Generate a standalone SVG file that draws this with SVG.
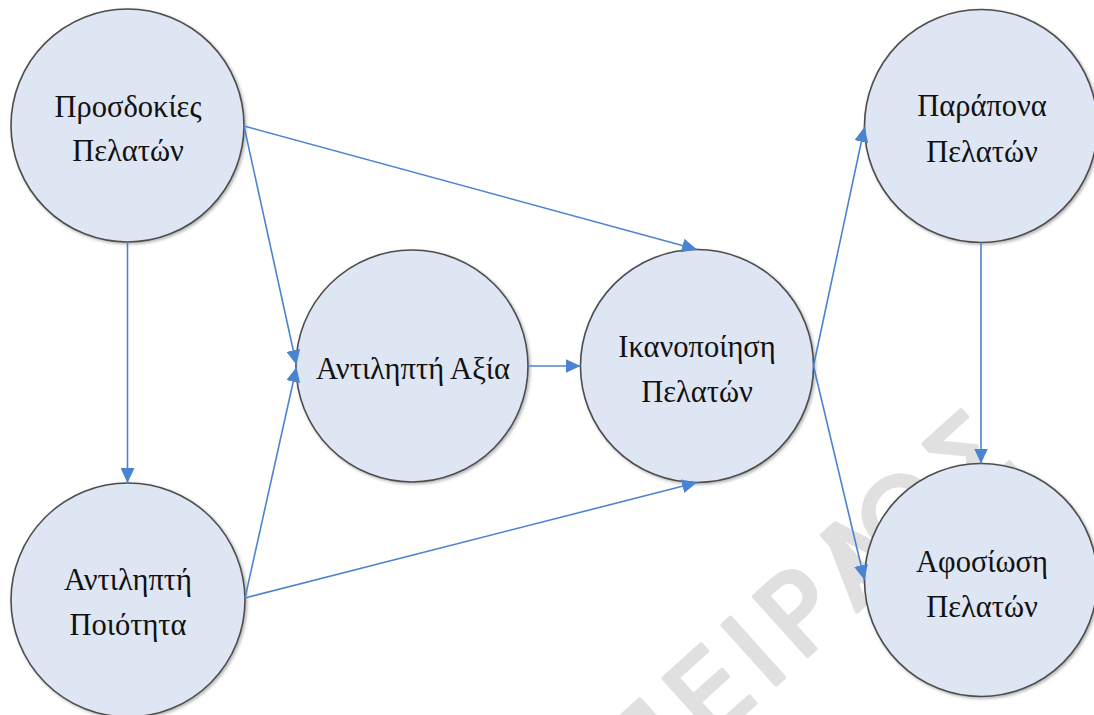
<svg xmlns="http://www.w3.org/2000/svg" width="1094" height="715" viewBox="0 0 1094 715">
  <defs>
    <style>
      .node circle { fill: #DEE5F3; stroke: #4D4D4D; stroke-width: 1.6; filter: url(#shadow); }
      .node text { font-family: "Liberation Serif", "Times New Roman", serif; font-size: 30.5px; fill: #111111; text-anchor: middle; }
      .edge { fill: none; stroke: #4A84D0; stroke-width: 1.6; marker-end: url(#arrow); }
      .mark { font-family: "DejaVu Sans", sans-serif; font-size: 110px; fill: #E0E0E0; stroke: #E0E0E0; stroke-width: 4; stroke-linejoin: round; letter-spacing: 10px; }
    </style>
    <filter id="shadow" x="-10%" y="-10%" width="125%" height="125%">
      <feDropShadow dx="1.5" dy="1.5" stdDeviation="1.5" flood-color="#000000" flood-opacity="0.3"/>
    </filter>
    <marker id="arrow" markerUnits="userSpaceOnUse" markerWidth="16" markerHeight="14" refX="15" refY="7" orient="auto">
      <path d="M0,0 L15,7 L0,14 z" fill="#4A84D0"/>
    </marker>
  </defs>

  <rect width="1094" height="715" fill="#FFFFFF"/>

  <!-- faint background watermark -->
  <text class="mark" transform="translate(640,807) rotate(-42)">ΠΕΙΡΑ<tspan dx="-70">ΙΩΣ</tspan></text>

  <!-- nodes -->
  <g id="node-prosdokies" class="node">
    <circle cx="127.5" cy="125.5" r="116.5"/>
    <text x="128" y="117">Προσδοκίες</text>
    <text x="128" y="161">Πελατών</text>
  </g>
  <g id="node-poiotita" class="node">
    <circle cx="128" cy="600" r="117"/>
    <text x="128" y="590">Αντιληπτή</text>
    <text x="128" y="635">Ποιότητα</text>
  </g>
  <g id="node-axia" class="node">
    <circle cx="412" cy="366" r="116"/>
    <text x="413" y="379">Αντιληπτή Αξία</text>
  </g>
  <g id="node-ikanopoiisi" class="node">
    <circle cx="697" cy="366" r="116.5"/>
    <text x="697" y="357">Ικανοποίηση</text>
    <text x="697" y="402">Πελατών</text>
  </g>
  <g id="node-parapona" class="node">
    <circle cx="981" cy="126" r="116.5"/>
    <text x="982" y="116">Παράπονα</text>
    <text x="982" y="162">Πελατών</text>
  </g>
  <g id="node-afosiosi" class="node">
    <circle cx="981" cy="580" r="116.5"/>
    <text x="982" y="572">Αφοσίωση</text>
    <text x="982" y="617">Πελατών</text>
  </g>

  <!-- connectors -->
  <g id="connectors">
    <line class="edge" x1="127.5" y1="242" x2="127.5" y2="483"/>
    <line class="edge" x1="244" y1="126" x2="697" y2="249.5"/>
    <line class="edge" x1="244" y1="126" x2="296.5" y2="365"/>
    <line class="edge" x1="245" y1="598" x2="296.5" y2="367"/>
    <line class="edge" x1="245" y1="598" x2="697" y2="482.5"/>
    <line class="edge" x1="528" y1="366" x2="580.5" y2="366"/>
    <line class="edge" x1="813.5" y1="366" x2="864.5" y2="127"/>
    <line class="edge" x1="813.5" y1="366" x2="864.5" y2="580"/>
    <line class="edge" x1="981" y1="242.5" x2="981" y2="463.5"/>
  </g>
</svg>
